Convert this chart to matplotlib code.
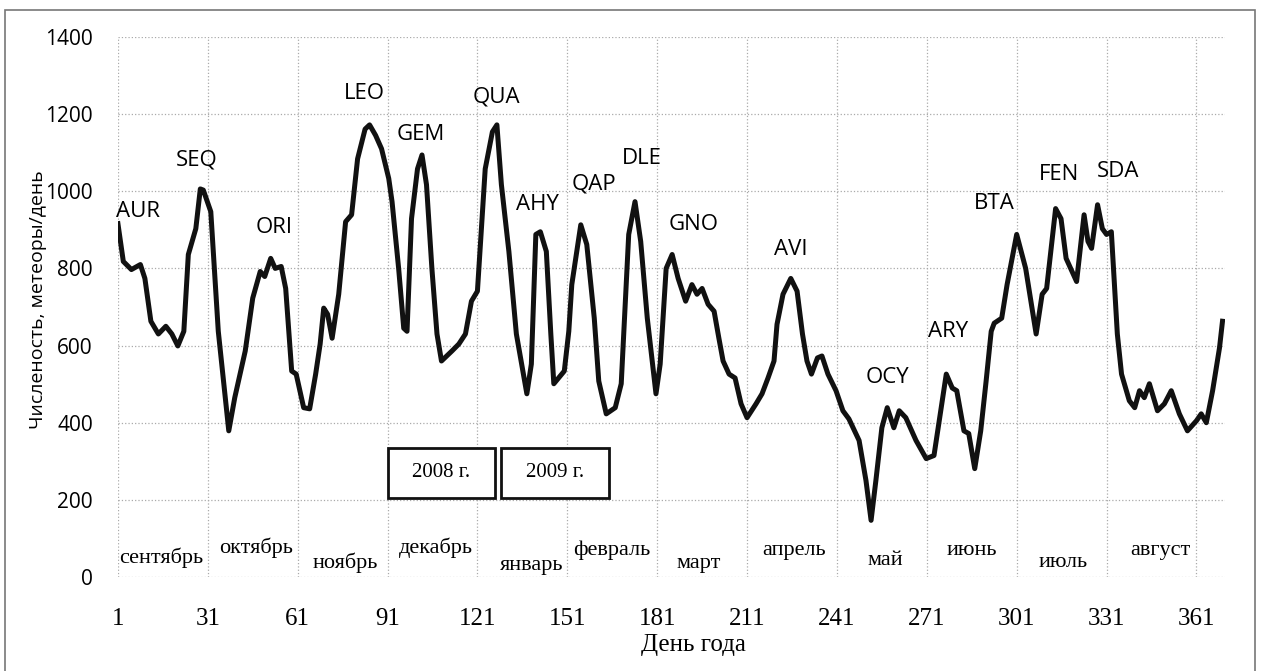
import matplotlib
matplotlib.use('Agg')
import matplotlib.pyplot as plt
from matplotlib.patches import Rectangle

# день года / численость
den = [1, 2.8, 5.5, 8.5, 10, 12, 14.5, 17, 19, 21, 23, 24.5, 27, 28.5, 29.5, 32, 34.5, 38, 40, 43.5,
       46, 48.5, 50, 52, 53.5, 55.5, 57, 59, 60.5, 63, 65, 67, 68.5, 69.7, 71, 72.5, 74.7, 77, 79, 81,
       83.5, 85, 87, 89, 91.4, 92.5, 94.7, 96.4, 97.5, 99, 101, 102.5, 104, 105.8, 107.5, 109, 112.5,
       114.8, 117, 119, 121, 123.6, 126, 127.5, 129, 131.5, 134, 137.5, 139, 140.5, 142, 144, 145.5,
       146.5, 150, 151.5, 152.5, 155.5, 157.5, 160, 161.5, 164, 167, 169, 171.5, 173.6, 175.5, 177.7,
       180.6, 182, 184, 186, 188, 190.5, 192.6, 194.3, 196, 198, 200, 201.6, 203, 205, 207, 209, 211,
       214, 216, 218, 220, 221, 223, 225.6, 227.7, 229.5, 231, 232.5, 234.5, 236, 238, 240.7, 243, 245,
       248.4, 250.7, 252.4, 254, 256, 257.8, 260, 261.8, 264, 267.4, 270.8, 273.4, 275, 277.5, 279.5,
       281, 283.4, 285, 287, 289, 290.8, 292.5, 293.5, 296, 297.8, 301, 304, 307.5, 309.5, 311, 314,
       315.8, 317.5, 321, 323.5, 324.8, 326, 328, 329.6, 331, 332.6, 334.6, 336, 338.6, 340.4, 342,
       343.6, 345.3, 348, 350.3, 352.6, 355.3, 358, 361, 362.6, 364.3, 366.4, 368.7, 369.7]
chislo = [916, 818, 797, 810, 774, 663, 630, 650, 630, 599, 637, 836, 903, 1006, 1003, 947, 637, 379, 465, 586,
          723, 792, 779, 826, 800, 805, 748, 534, 526, 439, 436, 526, 604, 697, 681, 619, 733, 921, 939, 1084,
          1161, 1172, 1145, 1110, 1033, 973, 800, 645, 637, 929, 1058, 1094, 1017, 800, 630, 560, 586,
          604, 630, 715, 741, 1058, 1154, 1172, 1017, 844, 630, 475, 552, 888, 895, 844, 630,
          501, 534, 637, 758, 913, 862, 671, 508, 423, 439, 501, 888, 973, 870, 671,
          475, 552, 800, 836, 774, 715, 758, 733, 748, 707, 689, 619, 560, 526, 516, 449, 413,
          449, 475, 516, 560, 655, 733, 774, 741, 630, 560, 526, 568, 573, 526, 483, 431, 410,
          354, 250, 147, 250, 387, 439, 387, 431, 413, 354, 307, 315, 397, 526, 490,
          483, 379, 372, 281, 379, 508, 637, 658, 671, 758, 888, 800, 630, 733, 748, 955,
          929, 826, 766, 939, 870, 852, 965, 903, 888, 895, 630, 526, 457, 439, 483,
          465, 501, 431, 449, 483, 423, 379, 405, 423, 400, 483, 594, 663]

potoki = ['AUR', 'SEQ', 'ORI', 'LEO', 'GEM', 'QUA', 'AHY', 'QAP', 'DLE', 'GNO', 'AVI', 'OCY', 'ARY',
          'BTA', 'FEN', 'SDA']
potoki_x = [0.3, 27.2, 53, 83.4, 102, 127.5, 141, 160, 176, 193, 225.7, 257.8, 278, 293.6, 315, 335]
potoki_y = [947, 1081, 906, 1254, 1146, 1244, 965, 1019, 1086, 914, 849, 516, 637, 968, 1043, 1050]

mesyacy = ['сентябрь', 'октябрь', 'ноябрь', 'декабрь', 'январь', 'февраль', 'март', 'апрель',
           'май', 'июнь', 'июль', 'август']
mesyacy_x = [15.5, 47, 77, 107, 139, 166, 195, 226.6, 257, 286, 316.6, 349]
mesyacy_y = [49, 75, 36, 75, 31, 70, 36, 70, 44, 70, 39, 70]

tiki_x = [1, 31, 61, 91, 121, 151, 181, 211, 241, 271, 301, 331, 361]
tiki_y = [0, 200, 400, 600, 800, 1000, 1200, 1400]

fig = plt.figure(figsize=(12.68, 6.71), dpi=100)
ax = fig.add_axes([0.093, 0.140, 0.873, 0.805])

ax.plot(den, chislo, color='#111111', lw=3.6, solid_joinstyle='round')

ax.set_xlim(1, 370.5)
ax.set_ylim(0, 1400)
ax.set_xticks(tiki_x)
ax.set_yticks(tiki_y)
ax.set_xticklabels([str(t) for t in tiki_x], family='Liberation Serif', fontsize=18)
ax.set_yticklabels([str(t) for t in tiki_y], family='Open Sans', fontsize=15)
ax.tick_params(axis='x', length=0, pad=22)
ax.tick_params(axis='y', length=0, pad=18)
for s in ax.spines.values():
    s.set_visible(False)
ax.grid(True, ls=':', color='#aaaaaa', lw=0.9)

for i, (t, x, y) in enumerate(zip(potoki, potoki_x, potoki_y)):
    ax.text(x, y, t, ha='left' if i == 0 else 'center', va='center', family='Open Sans', fontsize=16)

for t, x, y in zip(mesyacy, mesyacy_x, mesyacy_y):
    ax.text(x, y, t, ha='center', va='center', family='Liberation Serif', fontsize=16)

for x0, x1, t in [(91, 127, '2008 г.'), (129, 165, '2009 г.')]:
    ax.add_patch(Rectangle((x0, 204), x1 - x0, 131, fill=True, fc='white', ec='#111111', lw=2, zorder=3))
    ax.text((x0 + x1) / 2, 270, t, ha='center', va='center', family='Liberation Serif', fontsize=15, zorder=4)

ax.text(0.52, -0.126, 'День года', transform=ax.transAxes, ha='center', va='center',
        family='Liberation Serif', fontsize=18)
ax.text(-0.072, 0.513, 'Численость, метеоры/день', transform=ax.transAxes, rotation=90,
        ha='center', va='center', family='Open Sans', fontsize=14)

fig.add_artist(Rectangle((5 / 1268, -0.01), 1250 / 1268, 1.0 - 10 / 671 + 0.01, transform=fig.transFigure,
                         fill=False, ec='#777777', lw=1.2))

fig.savefig('out.png', dpi=100)
